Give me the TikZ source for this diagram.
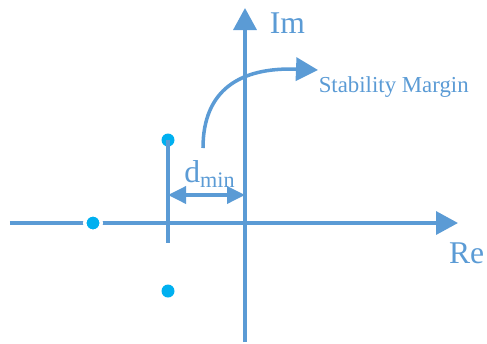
\documentclass[tikz,border=0pt]{standalone}
\usepackage{fontspec}
\setmainfont{Liberation Serif}
\usetikzlibrary{arrows.meta, positioning}
\definecolor{cline}{HTML}{5B9BD5}
\definecolor{cpole}{HTML}{00B0F0}
\tikzset{
  every picture/.style={line width=2pt},
  axis/.style={draw=cline, -{Triangle[length=0.44cm, width=0.46cm]}},
  pole/.style={circle, fill=cpole, inner sep=0pt, minimum size=0.26cm},
  label/.style={text=cline, font=\fontsize{18}{20}\selectfont, inner sep=0pt},
  dist/.style={draw=cline, {Triangle[length=0.36cm, width=0.34cm]}-{Triangle[length=0.36cm, width=0.34cm]}},
}

\begin{document}
\begin{tikzpicture}
  \useasboundingbox (-4.9,-2.4) rectangle (4.84,4.46);

  % axes
  \coordinate (o)    at (0,0);
  \coordinate (rel)  at (-4.7,0);
  \coordinate (rer)  at (4.26,0);
  \coordinate (imb)  at (0,-2.38);
  \coordinate (imt)  at (0,4.3);
  \draw[axis] (rel) -- (rer);
  \draw[axis] (imb) -- (imt);
  \node[label, anchor=west] (im) at (0.46,4.0) {Im};
  \node[label, anchor=east] (re) at (4.82,-0.6) {Re};

  % poles
  \node[pole, draw=white, line width=2pt, minimum size=0.33cm] (p1) at (-3.04,0) {};
  \node[pole] (p2) at (-1.54,1.66) {};
  \node[pole] (p3) at (-1.54,-1.36) {};
  \coordinate (tick) at (-1.54,-0.4);
  \draw[cline] (p2.center) -- (tick);

  % distance to the axis
  \coordinate (da) at (-1.54,0.56);
  \coordinate (db) at (0,0.56);
  \draw[dist] (da) -- (db);
  \node[label] (dmin) at (-0.7,0.98) {d\textsubscript{min}};

  % margin
  \coordinate (ms) at (-0.84,1.5);
  \coordinate (me) at (1.46,3.06);
  \draw[axis] (ms) .. controls (-0.84,2.66) and (-0.1,3.12) .. (me);
  \node[label, font=\fontsize{13}{15}\selectfont, anchor=west] (sm) at (1.44,2.72) {Stability Margin};
\end{tikzpicture}
\end{document}
